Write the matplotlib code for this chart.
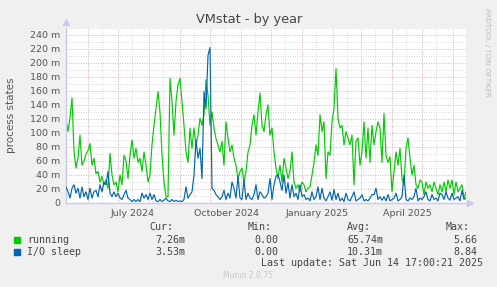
import datetime as dt
import numpy as np
import matplotlib
matplotlib.use("Agg")
import matplotlib.pyplot as plt
import matplotlib.dates as mdates
from matplotlib.patches import Rectangle
from matplotlib.ticker import FuncFormatter

# values in milli (m), one sample every 2 days starting 2024-05-10
running = [
    120, 102, 121, 150, 73, 50, 64, 97, 54, 60, 70, 75, 85, 54, 64, 42, 45, 30, 38, 26,
    33, 21, 71, 40, 26, 30, 16, 40, 26, 68, 60, 35, 68, 90, 64, 78, 58, 64, 45, 73,
    54, 30, 40, 83, 111, 135, 159, 130, 68, 30, 9, 9, 178, 145, 97, 145, 169, 178, 145, 111,
    73, 58, 107, 78, 107, 83, 97, 121, 111, 126, 176, 154, 111, 130, 107, 92, 83, 73, 88, 54,
    116, 93, 73, 83, 64, 54, 35, 45, 50, 30, 45, 73, 83, 111, 126, 97, 130, 157, 111, 102,
    126, 140, 97, 107, 73, 50, 35, 54, 30, 64, 50, 35, 45, 73, 30, 21, 26, 16, 30, 26,
    16, 21, 23, 40, 58, 83, 68, 126, 102, 116, 35, 73, 68, 116, 135, 192, 121, 107, 111, 83,
    102, 93, 83, 97, 26, 88, 93, 54, 73, 116, 64, 107, 58, 111, 83, 102, 116, 107, 58, 128,
    68, 58, 66, 16, 45, 73, 54, 78, 35, 26, 78, 93, 64, 40, 54, 26, 21, 33, 30, 12,
    30, 21, 26, 16, 30, 21, 12, 26, 16, 30, 16, 33, 21, 33, 12, 30, 16, 21, 26, 7,
    16, 9,
]
io_sleep = [
    23, 16, 7, 21, 26, 14, 21, 7, 23, 9, 16, 5, 21, 7, 16, 18, 9, 26, 16, 30,
    26, 45, 14, 9, 16, 9, 14, 7, 5, 12, 18, 7, 5, 2, 5, 2, 5, 2, 14, 7,
    12, 5, 14, 5, 12, 3, 2, 5, 2, 4, 7, 3, 2, 5, 2, 4, 2, 3, 2, 5,
    23, 7, 12, 16, 40, 90, 64, 78, 35, 159, 135, 211, 222, 21, 18, 12, 9, 5, 9, 18,
    5, 14, 7, 30, 21, 7, 38, 7, 5, 33, 5, 14, 7, 5, 12, 26, 5, 16, 12, 7,
    9, 14, 35, 5, 26, 38, 41, 30, 18, 40, 14, 29, 7, 26, 9, 14, 5, 26, 9, 12,
    5, 7, 3, 16, 5, 9, 23, 5, 21, 7, 3, 9, 16, 4, 19, 5, 14, 3, 7, 2,
    14, 5, 3, 9, 16, 3, 5, 7, 12, 3, 5, 3, 7, 12, 12, 21, 5, 9, 4, 9,
    3, 12, 3, 5, 7, 14, 3, 5, 9, 40, 5, 3, 7, 5, 9, 21, 3, 7, 5, 9,
    16, 5, 3, 12, 5, 7, 3, 14, 12, 5, 16, 7, 4, 14, 5, 7, 9, 3, 18, 5,
    7,
]

start = dt.datetime(2024, 5, 10)
end = dt.datetime(2025, 6, 14)
x_run = [start + dt.timedelta(days=2 * i) for i in range(len(running))]
x_io = [start + dt.timedelta(days=2 * i) for i in range(len(io_sleep))]

label_months = [dt.datetime(2024, 7, 16), dt.datetime(2024, 10, 17),
                dt.datetime(2025, 1, 16), dt.datetime(2025, 4, 16)]
label_texts = ["July 2024", "October 2024", "January 2025", "April 2025"]

W, H = 497, 287
fig = plt.figure(figsize=(W / 100, H / 100), dpi=100)
fig.patch.set_facecolor("#F0F0F0")
ax = fig.add_axes([66 / W, 84 / H, 400 / W, 175 / H])
ax.set_facecolor("white")

ax.set_xlim(start, end)
ax.set_ylim(0, 250)

# grid: gray minor, red major (rrdtool style)
dots = (0, (1, 1.5))
month_starts = []
mid_months = []
d = dt.datetime(2024, 6, 1)
while d <= end:
    month_starts.append(d)
    mid_months.append(d + dt.timedelta(days=14))
    m = d.month + 1
    d = dt.datetime(d.year + (m > 12), (m - 1) % 12 + 1, 1)
for v in mid_months:
    if v < end:
        ax.axvline(v, color="#D8D8D8", lw=0.7, ls=dots, zorder=0)
for v in range(10, 251, 20):
    ax.axhline(v, color="#D8D8D8", lw=0.7, ls=dots, zorder=0)
for v in month_starts:
    ax.axvline(v, color="#F0A8A8", lw=0.7, ls=dots, zorder=0)
for v in range(20, 241, 20):
    ax.axhline(v, color="#F0A8A8", lw=0.7, ls=dots, zorder=0)

ax.plot(x_run, running, color="#00CC00", lw=0.85, zorder=2)
ax.plot(x_io, io_sleep, color="#0066B3", lw=0.85, zorder=3)

ax.set_yticks(range(0, 241, 20))
ax.yaxis.set_major_formatter(FuncFormatter(lambda v, p: "0" if v == 0 else f"{int(v)} m"))
ax.set_xticks(label_months)
ax.set_xticklabels(label_texts)
ax.tick_params(length=0, labelsize=6.8, labelcolor="#555555", pad=4)

for s in ["top", "right"]:
    ax.spines[s].set_visible(False)
for s in ["left", "bottom"]:
    ax.spines[s].set_color("#C8C8F0")
    ax.spines[s].set_linewidth(1.0)
ax.plot([0], [1.035], marker="^", color="#C8C8F0", ms=4, transform=ax.transAxes, clip_on=False)
ax.plot([1.01], [0], marker=">", color="#C8C8F0", ms=4, transform=ax.transAxes, clip_on=False)

ax.set_ylabel("process states", fontsize=7.5, color="#555555", labelpad=10)

fig.text(249 / W, 1 - 19 / H, "VMstat - by year", ha="center", va="center",
         fontsize=9.3, color="#444444")
fig.text(487 / W, 1 - 52 / H, "RRDTOOL / TOBI OETIKER", rotation=270, ha="center",
         va="center", fontsize=5, color="#BBBBBB")


def ft(x, y, s, ha="left", **kw):
    fig.text(x / W, 1 - y / H, s, ha=ha, va="center", family="DejaVu Sans Mono",
             fontsize=7.2, color="#444444", **kw)


for xr, s in zip([173, 272, 371, 470], ["Cur:", "Min:", "Avg:", "Max:"]):
    ft(xr, 227, s, ha="right")

legend_rows = [
    ("running", "#00CC00", ["7.26m", "0.00", "65.74m", "5.66"]),
    ("I/O sleep", "#0066B3", ["3.53m", "0.00", "10.31m", "8.84"]),
]
for i, (name, col, vals) in enumerate(legend_rows):
    y = 240 + 12 * i
    fig.patches.append(Rectangle((14 / W, 1 - (y + 3) / H), 6 / W, 6 / H,
                                 transform=fig.transFigure, color=col))
    ft(27, y, name)
    for xr, s in zip([185, 278, 383, 477], vals):
        ft(xr, y, s, ha="right")

ft(483, 263, "Last update: Sat Jun 14 17:00:21 2025", ha="right")
fig.text(248 / W, 1 - 276 / H, "Munin 2.0.75", ha="center", va="center",
         fontsize=5.5, color="#C8C8C8")

fig.savefig("out.png", dpi=100, facecolor=fig.get_facecolor())
